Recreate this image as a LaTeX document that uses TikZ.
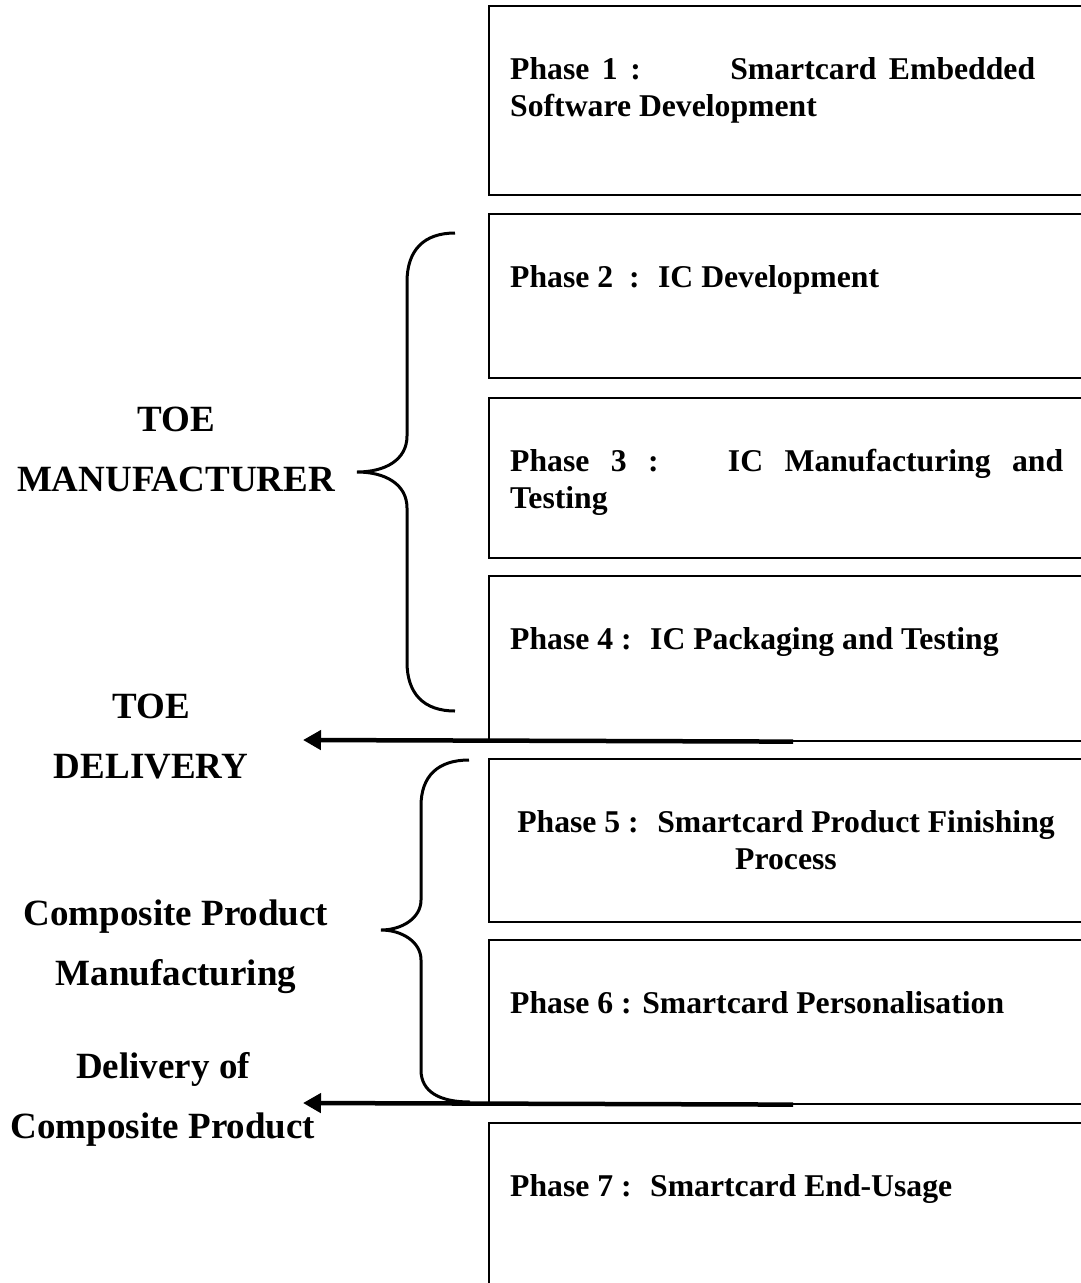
\documentclass[tikz,border=0pt]{standalone}
\usepackage{fontspec}
\setmainfont{Liberation Serif}
\usetikzlibrary{positioning,arrows.meta}

\begin{document}
\begin{tikzpicture}[x=1pt,y=-1pt,
  phasebox/.style={draw, line width=1.6pt, anchor=north west, minimum width=700pt, inner sep=0pt},
  phasetext/.style={font=\fontsize{31.7}{37}\selectfont\bfseries, inner sep=0pt, align=left},
  rolelabel/.style={font=\fontsize{37}{60}\selectfont\bfseries, inner sep=0pt, align=center, anchor=north},
  brace/.style={line width=3pt},
  delivery/.style={line width=4.5pt, -{Triangle[length=18pt,width=19pt]}},
  ]
  \useasboundingbox (0,0) rectangle (1081,1283);
  \clip (0,0) rectangle (1081,1283);

  % the seven phases
  \node[phasebox, minimum height=189pt] (p1) at (488,5) {};
  \node[phasebox, minimum height=164pt] (p2) at (488,213) {};
  \node[phasebox, minimum height=160pt] (p3) at (488,397) {};
  \node[phasebox, minimum height=165pt] (p4) at (488,575) {};
  \node[phasebox, minimum height=163pt] (p5) at (488,758) {};
  \node[phasebox, minimum height=164pt] (p6) at (488,939) {};
  \node[phasebox, minimum height=200pt] (p7) at (488,1122) {};

  \node[phasetext, text width=525pt, align=justify, below right=52pt and 22pt of p1.north west] (t1)
    {Phase 1 :\hspace{2.2em} Smartcard Embedded Software Development};
  \node[phasetext, below right=52pt and 22pt of p2.north west] (t2) {Phase 2~ :~ IC Development};
  \node[phasetext, text width=553pt, align=justify, below right=52pt and 22pt of p3.north west] (t3)
    {Phase 3 :\hspace{1em} IC Manufacturing and \mbox{Testing}};
  \node[phasetext, below right=52pt and 22pt of p4.north west] (t4) {Phase 4 :~ IC Packaging and Testing};
  \node[phasetext, align=center, below=52pt of p5.north west, xshift=298pt] (t5)
    {Phase 5 :~ Smartcard Product Finishing\\Process};
  \node[phasetext, below right=52pt and 22pt of p6.north west] (t6) {Phase 6 : Smartcard Personalisation};
  \node[phasetext, below right=52pt and 22pt of p7.north west] (t7) {Phase 7 :~ Smartcard End-Usage};

  % who does what
  \node[rolelabel] (mfr) at (176,407) {TOE\\MANUFACTURER};
  \node[rolelabel] (toedel) at (151,694) {TOE\\DELIVERY};
  \node[rolelabel] (cpm) at (176,900) {Composite Product\\Manufacturing};
  \node[rolelabel] (cpdel) at (163,1052) {Delivery of\\Composite Product};

  % braces
  \draw[brace] (455,233) .. controls (424,233) and (407,250) .. (407,282) -- (407,436)
    .. controls (407,460) and (385,472) .. (357,472)
    .. controls (385,472) and (407,484) .. (407,508) -- (407,662)
    .. controls (407,694) and (424,711) .. (455,711);
  \draw[brace] (469,760) .. controls (438,760) and (421,776) .. (421,806) -- (421,900)
    .. controls (421,918) and (402,930) .. (381,930)
    .. controls (402,930) and (421,942) .. (421,960) -- (421,1070)
    .. controls (421,1092) and (440,1102) .. (470,1102);

  % delivery arrows
  \coordinate (tip1) at (303,740);
  \coordinate (tip2) at (303,1103);
  \draw[delivery] ([xshift=305pt]p4.south west) -- (tip1);
  \draw[delivery] ([xshift=305pt]p6.south west) -- (tip2);
\end{tikzpicture}
\end{document}
